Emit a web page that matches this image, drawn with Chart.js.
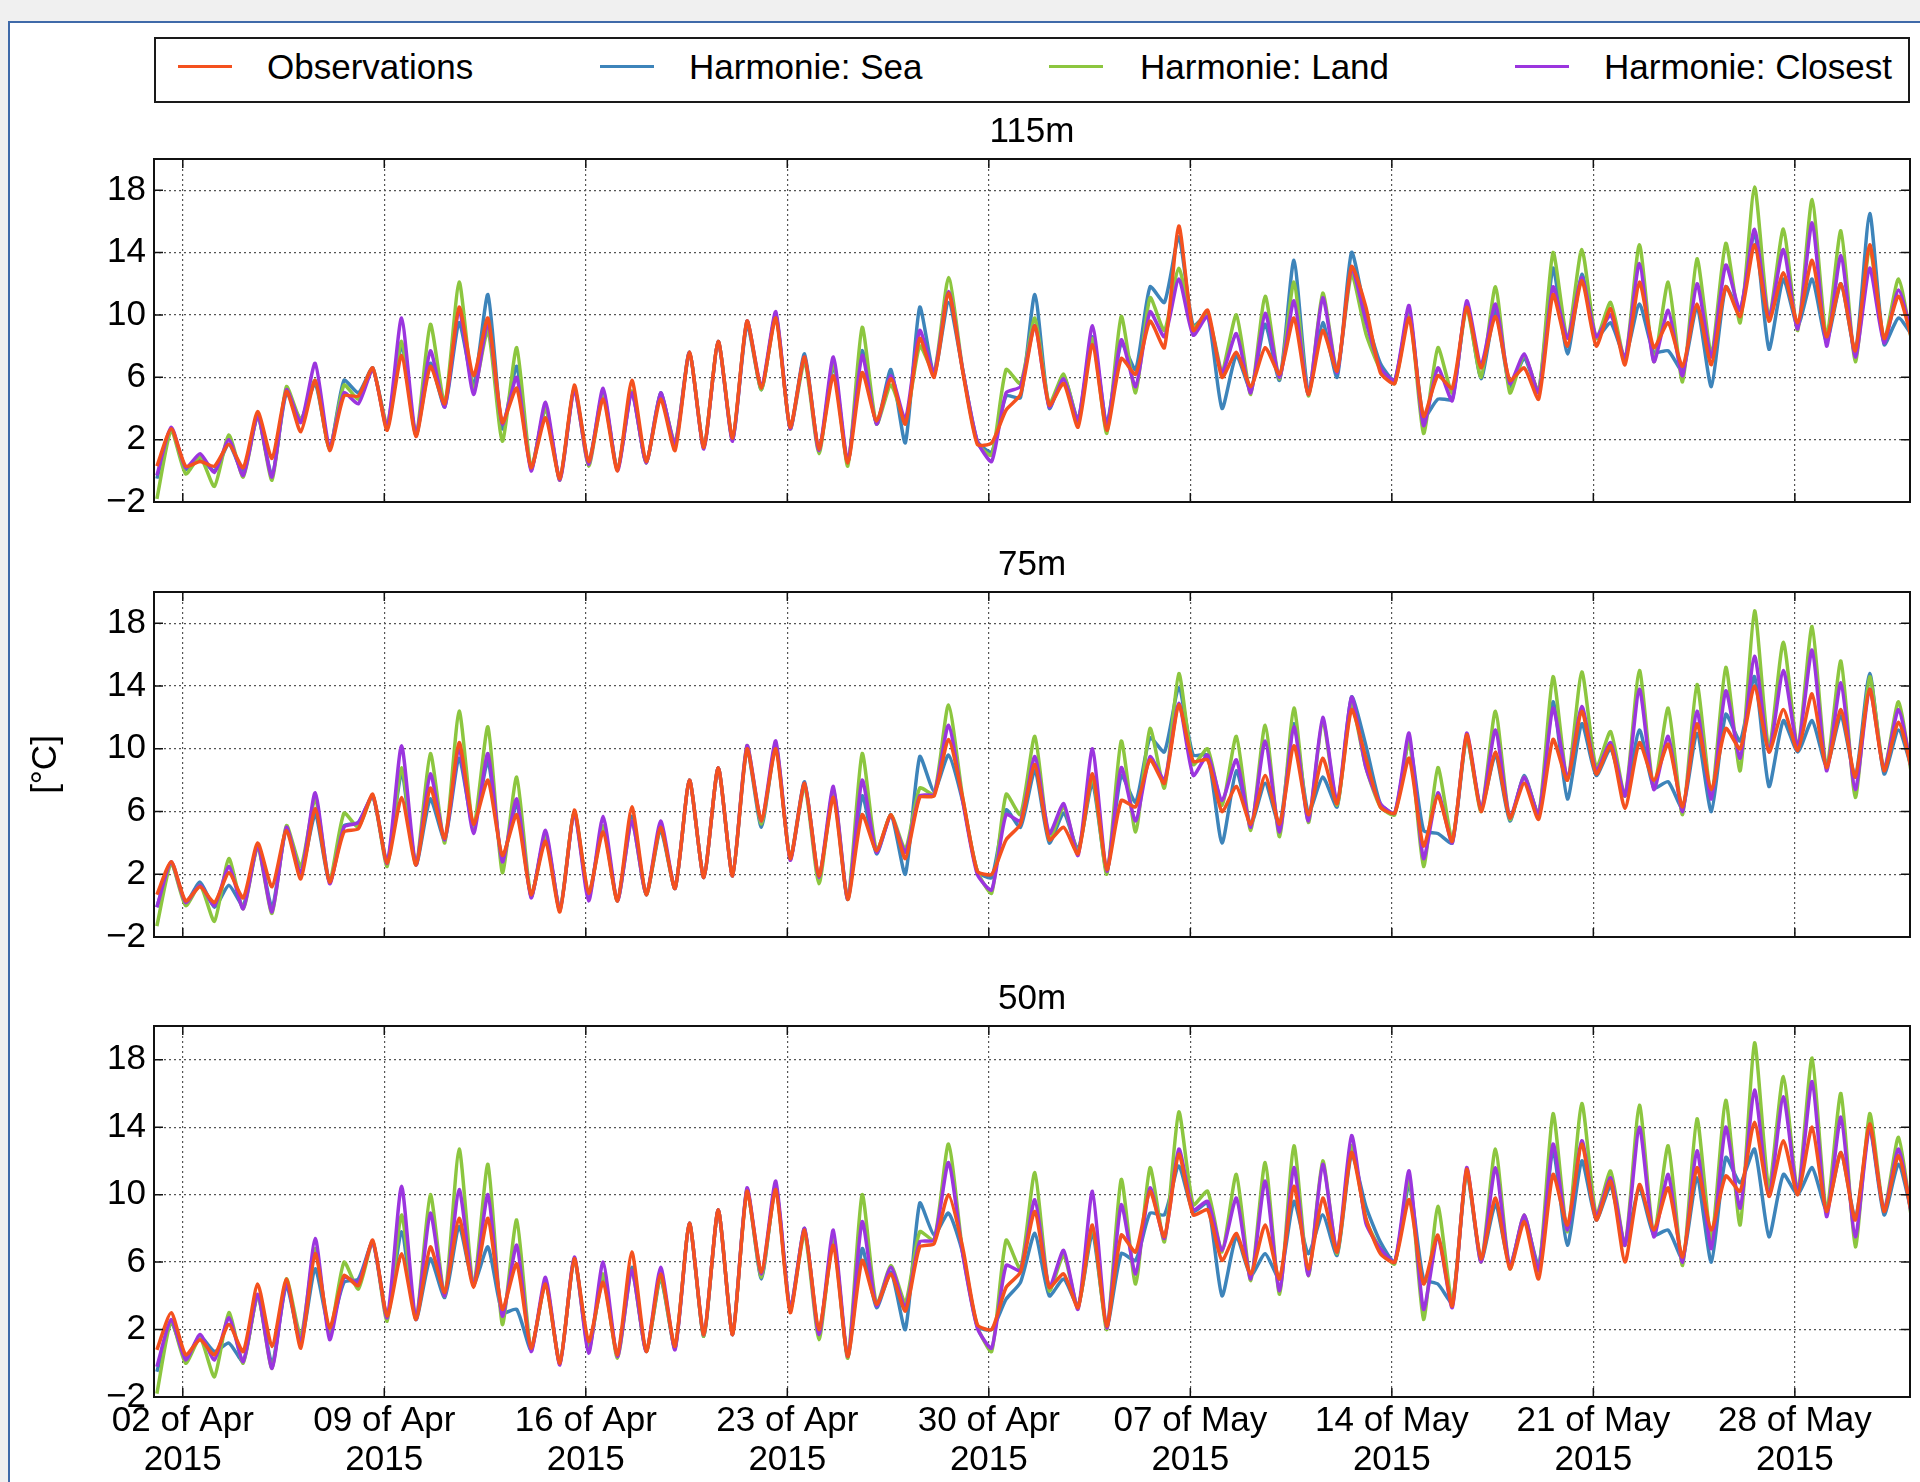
<!DOCTYPE html>
<html>
<head>
<meta charset="utf-8">
<title>Harmonie vs observations</title>
<script src="https://cdn.jsdelivr.net/npm/chart.js@4.4.1/dist/chart.umd.min.js"></script>
<style>
  html, body { margin: 0; padding: 0; }
  body {
    width: 1920px; height: 1482px; position: relative; overflow: hidden;
    background: #f0f0f0; font-family: 'Liberation Sans', Arial, sans-serif;
  }
  #sheet {
    position: absolute; left: 8px; top: 21px; width: 1940px; height: 1500px;
    background: #fff; border-left: 2px solid #3f6aa9; border-top: 2px solid #3f6aa9;
  }
  #legend {
    position: absolute; left: 154px; top: 37px; width: 1756px; height: 66px;
    box-sizing: border-box; border: 2px solid #1a1a1a; background: #fff;
  }
  .swatch { position: absolute; top: 26px; width: 54px; height: 3px; }
  .label { position: absolute; top: 0; line-height: 56px; font-size: 35px; color: #000; white-space: nowrap; }
  canvas { position: absolute; left: 0; }
</style>
</head>
<body>
<div id="sheet"></div>
<div id="legend"></div>
<canvas id="p115" width="1920" height="426" style="top:105px"></canvas>
<canvas id="p75" width="1920" height="428" style="top:538px"></canvas>
<canvas id="p50" width="1920" height="510" style="top:972px"></canvas>

<script>
// series: Observations, Harmonie: Sea, Harmonie: Land, Harmonie: Closest
const seriesNames = ['Observations', 'Harmonie: Sea', 'Harmonie: Land', 'Harmonie: Closest']
const seriesColors = ['#f4511e', '#3d84ba', '#8cc63f', '#9b35de']

// samples every 12 h, first one at 01 Apr 2015 02:24 (days since 01 Apr 00:00)
const firstSample = 0.1
const stepDays = 0.5

// x ticks, days since 01 Apr 2015
const xTickDays = [1, 8, 15, 22, 29, 36, 43, 50, 57]
const xTickLabels = [
  ['02 of Apr', '2015'], ['09 of Apr', '2015'], ['16 of Apr', '2015'],
  ['23 of Apr', '2015'], ['30 of Apr', '2015'], ['07 of May', '2015'],
  ['14 of May', '2015'], ['21 of May', '2015'], ['28 of May', '2015'],
]
const yTickValues = [-2, 2, 6, 10, 14, 18]
const yTickLabels = ['\u22122', '2', '6', '10', '14', '18']

// ---- 115m [°C]
const obs115 = [
  0.3,2.7, 0.3,0.6, 0.3,1.7, 0.2,3.8, 0.8,5.1, 2.5,5.8, 1.3,4.8, 4.8,6.6, 2.6,7.4, 2.2,6.7,
  4.3,10.5, 6.1,9.8, 3.1,5.3, 0.2,3.4, -0.5,5.5, 0.6,4.6, 0.0,5.8, 0.6,4.6, 1.3,7.6, 1.5,8.3,
  2.1,9.6, 5.3,9.8, 2.8,7.3, 1.4,6.1, 0.5,6.3, 3.2,5.9, 3.0,8.5, 6.0,11.4, 6.3,1.7, 1.8,3.9,
  4.9,9.3, 4.2,5.6, 2.8,8.1, 2.6,7.2, 6.2,9.6, 7.9,15.7, 9.0,10.3, 6.0,7.6, 5.4,7.9, 6.2,9.8,
  4.9,9.0, 6.4,13.1, 10.5,6.3, 5.6,9.8, 3.5,6.1, 5.3,10.5, 6.6,9.9, 5.8,6.6, 4.6,11.3, 8.0,12.2,
  8.0,10.4, 6.8,12.1, 7.9,9.5, 6.7,10.7, 6.8,11.8, 9.9,14.5, 9.6,12.7, 9.5,13.5, 8.6,12.0, 7.7,14.5,
  8.5,11.2, 8.2,
]
const sea115 = [
  -0.5,2.7, 0.1,0.8, 0.0,1.7, -0.1,3.5, -0.3,5.0, 3.3,5.6, 1.4,5.8, 5.0,6.6, 2.7,8.0, 2.3,6.9,
  4.1,9.5, 5.5,11.3, 2.7,6.7, 0.1,4.0, -0.5,5.3, 0.6,5.0, 0.1,5.1, 0.5,5.0, 1.6,7.6, 1.5,8.3,
  2.0,9.4, 5.2,10.0, 2.7,7.5, 1.3,6.7, 0.5,7.7, 3.0,6.5, 1.8,10.5, 6.2,10.8, 6.4,1.9, 1.2,4.8,
  4.7,11.3, 4.0,6.1, 3.3,8.6, 3.1,8.2, 6.5,11.8, 10.8,15.0, 9.3,10.0, 4.0,7.4, 5.2,9.4, 5.8,13.5,
  5.0,9.5, 6.0,14.0, 10.0,6.9, 5.8,10.2, 3.4,4.6, 4.6,10.7, 5.9,10.3, 5.4,7.2, 5.1,13.0, 7.5,12.6,
  8.5,9.5, 7.3,10.7, 7.6,7.7, 6.4,10.5, 5.4,11.8, 10.3,15.3, 7.8,12.3, 9.3,12.3, 8.3,12.0, 7.6,16.5,
  8.1,9.8, 8.6,
]
const land115 = [
  -1.8,2.6, -0.2,0.9, -1.0,2.3, -0.4,3.5, -0.6,5.4, 3.3,5.8, 1.4,5.5, 4.6,6.5, 3.0,8.3, 2.3,9.4,
  4.3,12.1, 5.1,9.0, 1.9,7.9, 0.2,4.0, -0.6,5.3, 0.3,4.8, 0.1,5.1, 0.5,4.9, 1.8,7.6, 1.5,8.3,
  2.0,9.6, 5.2,10.0, 2.7,7.0, 1.1,6.9, 0.3,9.2, 3.0,5.5, 3.2,8.0, 6.3,12.4, 6.4,1.8, 1.0,6.5,
  5.6,9.8, 4.3,6.2, 3.2,8.5, 2.4,9.9, 5.0,11.1, 9.0,13.0, 9.2,10.0, 6.5,10.0, 4.9,11.2, 5.9,12.1,
  4.8,11.4, 6.4,12.6, 8.8,6.5, 5.6,10.3, 2.4,7.9, 5.0,10.4, 6.0,11.8, 5.0,7.4, 5.1,14.0, 8.5,14.2,
  8.5,10.8, 7.1,14.5, 7.0,12.1, 5.7,13.6, 7.5,14.6, 9.5,18.2, 9.8,15.5, 9.0,17.4, 8.6,15.4, 7.0,14.3,
  8.4,12.3, 7.9,
]
const closest115 = [
  -0.3,2.8, 0.2,1.1, -0.1,2.0, -0.3,3.5, -0.4,5.2, 3.1,6.9, 1.5,5.0, 4.3,6.5, 2.8,9.8, 2.3,7.7,
  4.1,10.3, 4.9,9.5, 3.0,6.0, 0.0,4.4, -0.6,5.2, 0.4,5.3, 0.0,5.0, 0.5,5.0, 1.7,7.6, 1.4,8.3,
  1.9,9.6, 5.4,10.2, 2.7,7.3, 1.3,7.3, 0.6,7.4, 3.0,6.1, 3.3,9.0, 6.3,11.5, 6.4,1.9, 0.6,5.0,
  5.4,9.3, 4.1,5.9, 3.2,9.3, 2.9,8.4, 5.4,10.2, 8.6,12.3, 8.7,9.9, 6.3,8.8, 5.0,10.1, 6.0,10.9,
  4.9,11.1, 6.3,13.0, 9.6,6.6, 5.8,10.6, 2.9,6.6, 4.5,10.9, 6.8,10.7, 5.6,7.5, 5.0,11.8, 8.5,12.4,
  8.6,10.0, 7.2,13.3, 7.0,10.3, 6.1,12.0, 7.3,13.2, 10.3,15.5, 9.8,14.2, 9.1,15.9, 8.0,13.8, 7.3,13.0,
  8.2,11.6, 8.4,
]

// ---- 75m [°C]
const obs75 = [
  0.7,2.8, 0.3,1.2, 0.2,2.1, 0.5,4.0, 1.2,4.8, 1.7,6.2, 1.5,4.7, 4.9,7.1, 2.7,6.9, 2.6,7.5,
  4.3,10.4, 5.2,8.0, 3.2,5.8, 0.7,4.1, -0.4,6.1, 0.8,4.7, 0.3,6.3, 0.7,5.0, 1.1,8.0, 1.8,8.8,
  1.9,10.0, 5.4,10.0, 3.0,7.8, 1.9,6.9, 0.4,5.8, 3.5,5.8, 3.0,6.9, 7.0,10.6, 6.8,2.2, 2.0,4.2,
  5.2,9.0, 4.2,5.0, 3.3,8.4, 2.3,6.7, 6.3,9.3, 7.8,12.8, 9.2,9.3, 6.0,7.6, 5.2,8.3, 5.2,10.2,
  5.8,9.4, 6.5,12.5, 9.4,6.3, 5.9,9.4, 3.8,7.0, 4.1,10.9, 6.0,9.8, 5.6,7.8, 5.5,10.6, 8.0,12.4,
  8.4,10.2, 6.2,10.4, 8.0,10.3, 6.3,11.6, 7.4,11.3, 10.0,14.0, 9.8,12.5, 9.9,13.5, 8.8,12.5, 8.2,13.8,
  8.6,11.7, 8.4,
]
const sea75 = [
  -0.1,2.7, 0.2,1.5, -0.1,1.3, 0.0,3.8, -0.1,4.9, 2.1,5.8, 1.5,5.1, 5.3,7.0, 2.8,8.4, 2.6,6.8,
  4.2,9.4, 5.0,9.2, 2.9,6.5, 0.6,4.5, -0.3,6.0, 0.7,5.0, 0.3,5.7, 0.7,4.8, 1.1,8.0, 1.8,8.8,
  1.9,10.0, 5.0,10.2, 3.0,7.9, 1.8,7.2, 0.4,7.0, 3.3,5.8, 2.0,9.5, 7.3,9.6, 6.6,2.2, 1.8,6.1,
  5.0,8.6, 4.0,5.9, 3.6,7.8, 2.2,8.3, 6.6,10.7, 9.8,13.9, 9.6,9.6, 4.0,8.6, 5.2,7.8, 5.1,11.6,
  5.9,8.2, 6.3,13.3, 10.2,6.5, 5.9,10.5, 4.8,4.6, 4.0,10.7, 6.2,9.6, 5.4,8.3, 5.8,13.0, 6.8,11.6,
  8.3,10.0, 7.0,11.2, 7.5,7.9, 6.2,11.0, 6.0,12.2, 10.5,14.6, 7.6,11.8, 9.8,11.8, 8.9,12.1, 8.2,14.8,
  8.4,11.2, 8.5,
]
const land75 = [
  -1.3,2.7, 0.0,1.3, -1.0,3.0, -0.2,3.7, -0.5,5.1, 2.5,6.8, 1.6,5.9, 5.0,7.0, 2.5,8.8, 2.6,9.7,
  4.0,12.4, 5.0,11.4, 2.1,8.2, 0.6,4.5, -0.2,6.0, 0.6,5.1, 0.3,5.4, 0.7,5.0, 1.1,8.0, 1.8,8.8,
  1.9,10.2, 5.2,10.3, 3.0,7.6, 1.4,7.4, 0.4,9.7, 3.5,5.8, 3.6,7.5, 7.1,12.8, 6.8,2.2, 0.8,7.1,
  5.8,10.8, 4.2,6.3, 3.4,8.2, 2.0,10.5, 4.7,11.3, 7.5,14.8, 9.0,10.0, 6.4,10.8, 4.8,11.5, 4.4,12.6,
  5.3,11.8, 6.4,12.8, 8.8,6.3, 5.8,10.5, 2.5,8.8, 4.2,10.7, 6.0,12.4, 5.5,8.2, 5.8,14.6, 8.0,14.9,
  8.8,11.1, 7.0,15.0, 7.5,12.6, 5.8,14.1, 7.0,15.2, 8.6,18.8, 10.0,16.8, 10.1,17.8, 8.8,15.6, 6.9,14.6,
  8.7,13.0, 7.8,
]
const closest75 = [
  -0.1,2.8, 0.2,1.3, 0.0,2.5, -0.2,3.8, -0.4,5.0, 2.0,7.2, 1.4,5.0, 5.3,7.0, 2.7,10.2, 2.6,8.4,
  4.2,10.0, 4.6,9.7, 2.8,6.8, 0.5,4.8, -0.3,5.9, 0.3,5.7, 0.3,5.4, 0.7,5.4, 1.1,8.0, 1.8,8.8,
  1.9,10.2, 5.4,10.5, 2.9,7.8, 1.8,7.6, 0.4,8.0, 3.4,5.7, 3.4,7.0, 7.1,11.5, 6.6,2.0, 1.0,5.8,
  5.4,9.5, 4.6,6.5, 3.2,10.0, 2.2,8.8, 5.4,9.5, 8.0,12.9, 8.3,9.6, 6.7,9.3, 5.0,10.5, 4.7,11.4,
  5.4,12.0, 6.6,13.3, 8.8,6.5, 5.9,11.0, 3.0,7.2, 4.0,11.0, 6.2,11.2, 5.6,8.2, 5.8,12.6, 8.2,12.7,
  8.6,10.4, 7.0,13.8, 7.4,10.8, 6.0,12.4, 6.8,13.7, 9.4,15.9, 9.8,15.0, 10.1,16.3, 8.6,14.2, 7.4,13.8,
  8.7,12.5, 8.2,
]

// ---- 50m [°C]
const obs50 = [
  0.8,3.0, 0.5,1.4, 0.5,2.3, 0.7,4.7, 1.0,5.0, 0.9,6.5, 2.1,5.2, 4.6,7.3, 2.8,6.5, 2.6,6.9,
  4.2,8.6, 4.5,8.6, 3.2,5.9, 0.9,4.7, 0.0,6.2, 1.3,4.8, 0.5,6.6, 0.7,5.3, 1.0,8.3, 1.7,9.1,
  1.7,10.2, 5.4,10.3, 3.0,7.9, 2.0,7.0, 0.4,6.1, 3.5,5.3, 3.1,6.9, 7.1,10.0, 6.8,2.3, 2.0,4.5,
  5.4,9.0, 4.5,5.3, 3.3,8.2, 2.2,7.6, 6.6,10.2, 7.5,12.4, 8.8,9.1, 6.1,7.7, 5.3,8.2, 5.0,10.5,
  5.6,9.8, 6.6,12.5, 8.6,6.5, 6.0,9.7, 4.7,7.6, 3.4,11.5, 6.2,9.8, 5.6,8.4, 5.0,11.2, 8.2,13.0,
  8.5,10.8, 6.0,10.6, 7.9,10.4, 6.3,11.6, 7.9,11.1, 10.2,14.3, 9.9,13.2, 10.0,14.0, 9.0,12.5, 8.5,14.2,
  9.0,12.3, 8.5,
]
const sea50 = [
  -0.5,2.4, 0.3,1.6, 0.7,1.2, 0.1,4.0, 0.0,4.6, 1.2,5.6, 2.0,4.8, 5.0,7.2, 2.8,7.8, 2.6,6.2,
  3.9,8.1, 4.7,6.9, 3.0,3.2, 0.8,4.8, 0.0,6.2, 1.0,5.0, 0.5,5.7, 0.7,5.0, 0.9,8.3, 1.6,9.1,
  1.7,10.3, 5.0,10.5, 3.2,8.0, 1.8,7.3, 0.4,6.8, 3.3,5.4, 2.0,9.5, 7.6,8.9, 6.5,2.2, 2.0,3.8,
  4.8,7.7, 4.0,5.0, 3.4,7.7, 2.2,6.5, 6.1,8.9, 8.8,11.7, 9.0,9.5, 4.0,7.5, 5.2,6.5, 5.0,9.6,
  6.5,8.8, 6.4,12.4, 9.3,7.2, 6.0,10.6, 5.0,4.7, 3.6,11.3, 6.1,9.4, 5.8,8.6, 5.8,12.6, 7.0,12.0,
  8.5,10.5, 7.1,10.4, 7.6,7.9, 6.2,11.0, 6.0,12.2, 10.7,12.7, 7.5,11.2, 10.0,11.6, 9.1,12.5, 8.6,13.9,
  8.8,11.8, 8.6,
]
const land50 = [
  -1.8,2.5, 0.0,1.5, -0.8,3.0, 0.0,4.0, -0.3,5.0, 1.6,6.8, 1.8,6.0, 4.4,7.2, 2.5,8.8, 2.6,10.0,
  4.0,12.7, 4.6,11.8, 2.3,8.5, 0.8,4.8, 0.0,6.2, 0.8,5.3, 0.3,5.5, 0.7,5.1, 0.9,8.3, 1.6,9.1,
  1.7,10.3, 5.1,10.5, 3.2,7.7, 1.4,7.5, 0.3,10.0, 3.5,5.8, 3.6,7.8, 7.3,13.0, 6.5,2.2, 0.7,7.3,
  5.6,11.3, 4.3,6.4, 3.3,8.1, 2.0,10.9, 4.7,11.6, 7.2,14.9, 9.4,10.2, 6.6,11.2, 4.9,11.9, 4.1,12.9,
  5.2,12.0, 6.5,12.9, 8.5,6.8, 5.9,11.0, 2.6,9.3, 3.6,11.4, 6.0,12.7, 5.6,8.8, 5.5,14.8, 7.8,15.4,
  8.8,11.4, 7.0,15.3, 7.6,12.9, 5.8,14.5, 7.3,15.6, 8.2,19.0, 10.4,17.0, 10.2,18.1, 9.0,16.0, 6.9,14.8,
  9.1,13.4, 8.0,
]
const closest50 = [
  -0.2,2.6, 0.2,1.7, 0.2,2.7, 0.1,4.1, -0.3,4.8, 1.2,7.4, 1.4,5.1, 4.8,7.2, 2.7,10.5, 2.6,8.9,
  4.0,10.3, 4.6,10.0, 2.8,7.0, 0.7,5.1, -0.1,6.3, 0.6,6.0, 0.4,5.5, 0.7,5.7, 0.8,8.3, 1.7,9.1,
  1.7,10.4, 5.3,10.8, 3.2,8.0, 1.7,7.9, 0.4,8.4, 3.4,5.7, 3.3,7.2, 7.3,11.9, 6.4,2.1, 0.9,5.8,
  5.5,9.7, 4.5,6.7, 3.2,10.2, 2.1,9.4, 5.3,10.4, 7.4,12.7, 9.1,9.6, 6.7,9.8, 5.0,10.8, 4.3,11.6,
  5.2,11.8, 6.6,13.5, 8.3,6.8, 6.0,11.4, 3.2,7.5, 3.3,11.6, 6.0,11.6, 5.7,8.8, 5.5,13.0, 7.9,13.2,
  8.7,11.0, 7.0,14.0, 7.5,11.2, 6.0,12.6, 6.8,14.0, 9.2,16.2, 9.9,15.8, 10.1,16.7, 8.7,14.6, 7.5,14.0,
  9.1,12.7, 8.3,
]

const FONT = "'Liberation Sans', Arial, sans-serif"

// legend box, drawn as plain html like the matplotlib one
const legendSpots = [[22, 111], [444, 533], [893, 984], [1359, 1448]]
const legendEl = document.getElementById('legend')
seriesNames.forEach((name, i) => {
  const sw = document.createElement('div')
  sw.className = 'swatch'
  sw.style.left = legendSpots[i][0] + 'px'
  sw.style.background = seriesColors[i]
  const lb = document.createElement('div')
  lb.className = 'label'
  lb.style.left = legendSpots[i][1] + 'px'
  lb.textContent = name
  legendEl.appendChild(sw)
  legendEl.appendChild(lb)
})

// full box round the plot area + inward ticks (matplotlib look)
const frameBox = {
  id: 'frameBox',
  afterDraw(chart) {
    const { ctx, chartArea: a, scales } = chart
    ctx.save()
    ctx.strokeStyle = '#111'
    ctx.lineWidth = 1.5
    ctx.beginPath()
    scales.x.ticks.forEach((t) => {
      const px = scales.x.getPixelForValue(t.value)
      ctx.moveTo(px, a.bottom)
      ctx.lineTo(px, a.bottom - 9)
      ctx.moveTo(px, a.top)
      ctx.lineTo(px, a.top + 9)
    })
    scales.y.ticks.forEach((t) => {
      const py = scales.y.getPixelForValue(t.value)
      ctx.moveTo(a.left, py)
      ctx.lineTo(a.left + 9, py)
      ctx.moveTo(a.right, py)
      ctx.lineTo(a.right - 9, py)
    })
    ctx.stroke()
    ctx.lineWidth = 2
    ctx.strokeRect(a.left, a.top, a.right - a.left, a.bottom - a.top)
    ctx.restore()
  },
}

const gridStyle = { color: '#555', lineWidth: 1.2, drawTicks: false }
const gridBorder = { display: false, dash: [2, 3] }

function makePanel(id, title, obs, sea, land, closest, isBottom, withYTitle) {
  const ds = (idx, vals, order) => ({
    label: seriesNames[idx],
    data: vals.map((v, i) => ({ x: firstSample + i * stepDays, y: v })),
    borderColor: seriesColors[idx],
    backgroundColor: seriesColors[idx],
    borderWidth: 3.5,
    pointRadius: 0,
    tension: 0.2,
    order: order,
    clip: 0,
  })

  return new Chart(document.getElementById(id), {
    type: 'line',
    data: {
      datasets: [ds(0, obs, 0), ds(3, closest, 1), ds(2, land, 2), ds(1, sea, 3)],
    },
    options: {
      responsive: false,
      animation: false,
      devicePixelRatio: 1,
      layout: { padding: { left: 0, right: 10, top: 6, bottom: isBottom ? 0 : 2 } },
      plugins: {
        legend: { display: false },
        tooltip: { enabled: false },
        title: {
          display: true,
          fullSize: false, // centre over the plot area, not the canvas
          text: title,
          color: '#000',
          font: { family: FONT, size: 35, weight: 'normal' },
          padding: { top: 0, bottom: 6 },
        },
      },
      scales: {
        x: {
          type: 'linear',
          min: 0,
          max: 61,
          afterBuildTicks: (s) => { s.ticks = xTickDays.map((v) => ({ value: v })) },
          afterFit: (s) => { s.height = isBottom ? 85 : 0 },
          ticks: {
            display: isBottom,
            autoSkip: false,
            maxRotation: 0,
            padding: 5,
            color: '#000',
            font: { family: FONT, size: 35, lineHeight: 1.12 },
            callback: (v, i) => xTickLabels[i],
          },
          grid: gridStyle,
          border: gridBorder,
        },
        y: {
          min: -2,
          max: 20,
          afterBuildTicks: (s) => { s.ticks = yTickValues.map((v) => ({ value: v })) },
          afterFit: (s) => { s.width = 154 },
          ticks: {
            padding: 8,
            color: '#000',
            font: { family: FONT, size: 35 },
            callback: (v) => yTickLabels[yTickValues.indexOf(v)],
          },
          grid: gridStyle,
          border: gridBorder,
          title: {
            display: withYTitle,
            text: '[°C]',
            color: '#000',
            font: { family: FONT, size: 35 },
            padding: { top: 25, bottom: 0 },
          },
        },
      },
    },
    plugins: [frameBox],
  })
}

makePanel('p115', '115m', obs115, sea115, land115, closest115, false, false)
makePanel('p75', '75m', obs75, sea75, land75, closest75, false, true)
makePanel('p50', '50m', obs50, sea50, land50, closest50, true, false)
</script>
</body>
</html>
